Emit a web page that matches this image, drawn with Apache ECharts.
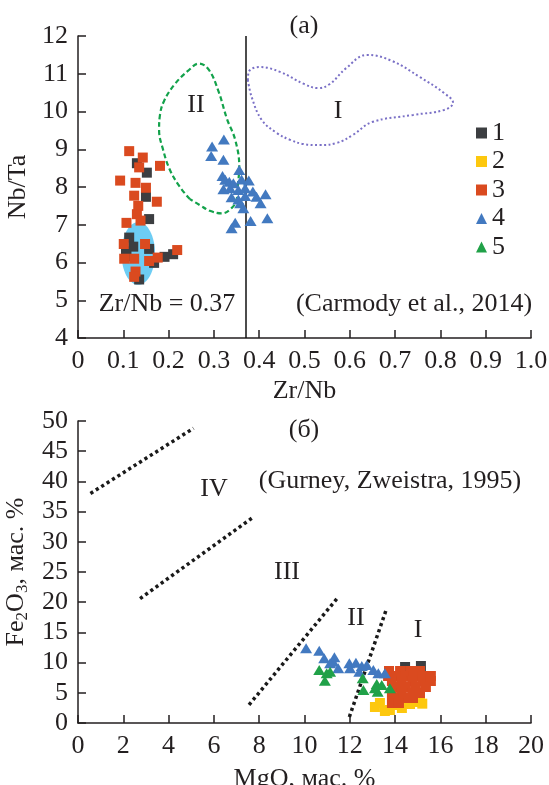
<!DOCTYPE html>
<html>
<head>
<meta charset="utf-8">
<script src="https://cdn.jsdelivr.net/npm/echarts@6/dist/echarts.min.js"></script>
<style>
html,body{margin:0;padding:0;background:#fff;}
#chart{width:549px;height:785px;}
</style>
</head>
<body>
<div id="chart"></div>
<script>
// ---------- DATA ----------
// Panel (а): Zr/Nb vs Nb/Ta
const topXTicks = [0, 0.1, 0.2, 0.3, 0.4, 0.5, 0.6, 0.7, 0.8, 0.9, 1.0];
const topYTicks = [4, 5, 6, 7, 8, 9, 10, 11, 12];
const zrNbLimit = 0.374;
const topS1 = [[0.130,8.63],[0.152,8.38],[0.150,7.74],[0.157,7.15],[0.113,6.66],[0.122,6.42],[0.157,6.36],
  [0.107,6.17],[0.106,6.29],[0.191,6.15],[0.210,6.22],[0.168,5.99],[0.135,5.55]];
const topS3 = [[0.113,8.95],[0.143,8.78],[0.135,8.52],[0.181,8.56],[0.093,8.17],[0.127,8.11],[0.150,7.98],
  [0.124,7.77],[0.174,7.61],[0.133,7.50],[0.130,7.28],[0.107,7.05],[0.138,7.11],[0.101,6.49],[0.148,6.49],
  [0.219,6.33],[0.102,6.10],[0.124,6.10],[0.157,6.04],[0.176,6.13],[0.127,5.76],[0.124,5.62]];
const topS4 = [[0.322,9.26],[0.296,9.07],[0.294,8.82],[0.321,8.72],[0.356,8.45],[0.319,8.29],[0.325,8.19],
  [0.334,8.14],[0.361,8.20],[0.377,8.17],[0.343,8.10],[0.321,7.94],[0.336,7.97],[0.354,7.92],[0.369,7.97],
  [0.386,7.88],[0.394,7.74],[0.414,7.81],[0.339,7.73],[0.354,7.67],[0.369,7.76],[0.358,7.57],[0.403,7.57],
  [0.365,7.44],[0.418,7.17],[0.381,7.10],[0.347,7.05],[0.339,6.91]];
// light-blue field: [centre x, centre y, half width, half height]
const topEllipse = [[0.133, 6.24, 0.037, 0.83]];
// field II (dashed green) outline
const fieldII = [[0.247,7.68],[0.225,8.00],[0.203,8.45],[0.188,8.98],[0.179,9.51],[0.181,9.91],[0.190,10.28],
  [0.214,10.73],[0.245,11.10],[0.267,11.27],[0.289,11.10],[0.310,10.54],[0.329,9.80],[0.347,9.25],[0.356,8.54],
  [0.353,8.05],[0.350,7.66],[0.339,7.44],[0.317,7.30],[0.291,7.37],[0.269,7.52],[0.247,7.68]];
// field I (dotted purple) outline
const fieldI = [[0.375,10.83],[0.377,11.05],[0.400,11.18],[0.446,11.05],[0.499,10.73],[0.530,10.62],[0.556,10.73],
  [0.592,11.15],[0.638,11.50],[0.693,11.34],[0.755,10.91],[0.808,10.49],[0.828,10.23],[0.808,10.04],[0.740,9.91],
  [0.649,9.72],[0.607,9.38],[0.572,9.17],[0.534,9.11],[0.497,9.14],[0.468,9.25],[0.439,9.43],[0.406,9.77],
  [0.384,10.36],[0.375,10.83]];

// Panel (б): MgO vs Fe2O3
const botXTicks = [0, 2, 4, 6, 8, 10, 12, 14, 16, 18, 20];
const botYTicks = [0, 5, 10, 15, 20, 25, 30, 35, 40, 45, 50];
const botS1 = [[15.14,9.44],[14.44,9.27]];
const botS2 = [[13.11,2.65],[13.33,3.31],[13.77,2.15],[14.04,2.98],[14.30,2.48],[14.66,3.15],[15.10,3.48],
  [14.40,3.80],[13.55,1.99],[15.20,3.20]];
const botS3 = [[13.73,8.61],[14.22,8.61],[14.66,8.61],[15.10,8.61],
  [13.69,7.78],[14.04,7.78],[14.44,7.78],[14.83,7.78],[15.23,7.78],[15.58,7.78],
  [13.86,6.95],[14.30,6.95],[14.75,6.95],[15.19,6.95],[15.58,6.95],
  [14.04,5.96],[14.48,5.96],[14.92,5.96],[15.36,5.96],
  [13.86,4.97],[14.30,4.97],[14.75,4.97],[15.10,4.97],
  [13.91,4.14],[14.35,4.14],[14.79,4.14],
  [13.86,3.31],[14.17,3.31]];
const botS4 = [[10.07,12.37],[10.65,11.97],[10.87,10.71],[11.32,10.88],[11.27,10.15],[11.49,9.06],[11.98,9.88],
  [12.27,9.98],[12.53,9.44],[12.75,9.60],[12.42,8.49],[13.04,8.77],[13.26,8.23],[13.55,8.23],[12.01,9.06],[11.13,9.88]];
const botS5 = [[10.65,8.77],[10.98,8.23],[11.13,8.49],[10.90,7.00],[12.57,7.40],[12.60,5.46],[13.19,6.46],
  [13.41,6.29],[13.23,5.18],[13.77,5.74],[13.11,5.74]];
const lineIV = [[0.55,38.0],[5.1,48.8]];
const lineIII = [[2.74,20.6],[7.67,33.9]];
const lineII = [[7.55,3.0],[11.5,20.9]];
const lineI = [[11.98,1.0],[13.63,19.0]];

const seriesNames = ['1','2','3','4','5'];
const seriesColors = ['#3c3e41','#fdc80e','#da4a1f','#4279c0','#20a148'];
const seriesSymbols = ['rect','rect','rect','triangle','triangle'];

// ---------- CHART ----------
const FONT = 'Liberation Serif';
const FS = 26;
const TXT = '#231f20';
const chart = echarts.init(document.getElementById('chart'), null, {renderer:'canvas'});

function axisCommon(min, max, interval, fmt) {
  return {
    type:'value', min:min, max:max, interval:interval,
    axisLine:{show:true, onZero:false, lineStyle:{color:TXT, width:1.5}},
    axisTick:{show:true, inside:true, length:8, lineStyle:{color:TXT, width:1.5}},
    splitLine:{show:false},
    axisLabel:{color:TXT, fontFamily:FONT, fontSize:FS, formatter:fmt, margin:10},
    nameTextStyle:{color:TXT, fontFamily:FONT, fontSize:FS},
    nameLocation:'middle'
  };
}

function scatter(name, idx, data, xi, size) {
  return {
    type:'scatter', name:name, xAxisIndex:xi, yAxisIndex:xi, data:data,
    symbol:seriesSymbols[idx], symbolSize: seriesSymbols[idx]==='triangle' ? [12,10] : size,
    itemStyle:{color:seriesColors[idx], opacity:1}, z:3+idx, silent:true
  };
}

function dotLine(data) {
  return {
    type:'line', xAxisIndex:1, yAxisIndex:1, data:data, symbol:'none', silent:true,
    lineStyle:{color:'#1a1a1a', width:3.5, type:[3.2,3.2], cap:'butt'}, z:2
  };
}

function txt(s, x, y) {
  return {type:'text', style:{text:s, font:FS + 'px "Liberation Serif"', fill:TXT, x:x, y:y,
    textAlign:'center', textVerticalAlign:'middle'}};
}

const option = {
  animation:false,
  backgroundColor:'#fff',
  grid:[
    {left:78, top:36, width:453, height:302, containLabel:false, outerBoundsMode:'none'},
    {left:78, top:421, width:453, height:302, containLabel:false, outerBoundsMode:'none'}
  ],
  xAxis:[
    Object.assign(axisCommon(topXTicks[0], topXTicks[topXTicks.length-1], 0.1,
      v => v === 0 ? '0' : v.toFixed(1)), {gridIndex:0, name:'Zr/Nb', nameGap:40}),
    Object.assign(axisCommon(botXTicks[0], botXTicks[botXTicks.length-1], 2,
      v => String(Math.round(v))), {gridIndex:1, name:'MgO, мас. %', nameGap:43})
  ],
  yAxis:[
    Object.assign(axisCommon(topYTicks[0], topYTicks[topYTicks.length-1], 1,
      v => String(Math.round(v))), {gridIndex:0, name:'Nb/Ta', nameGap:41}),
    Object.assign(axisCommon(botYTicks[0], botYTicks[botYTicks.length-1], 5,
      v => String(Math.round(v))), {gridIndex:1, name:'Fe{s|2}O{s|3}, мас. %', nameGap:41,
      nameTextStyle:{color:TXT, fontFamily:FONT, fontSize:FS,
        rich:{s:{fontFamily:FONT, fontSize:17, color:TXT, verticalAlign:'bottom', padding:[13,0,0,0]}}}})
  ],
  legend:{
    orient:'vertical', left:476, top:120, padding:0, itemGap:2.5,
    itemWidth:11, itemHeight:11, selectedMode:false,
    textStyle:{color:TXT, fontFamily:FONT, fontSize:FS, lineHeight:26},
    data: seriesNames.map((n,i)=>({name:n, icon:seriesSymbols[i], itemStyle:{color:seriesColors[i]}}))
  },
  graphic:[
    txt('(а)', 304, 26),
    txt('II', 196, 105),
    txt('I', 338, 111),
    txt('Zr/Nb = 0.37', 167, 304),
    txt('(Carmody et al., 2014)', 414, 304),
    txt('(б)', 304, 430),
    txt('(Gurney, Zweistra, 1995)', 390, 481),
    txt('IV', 214, 489),
    txt('III', 287, 572),
    txt('II', 356, 618),
    txt('I', 418, 630)
  ],
  series:[
    {
      type:'custom', xAxisIndex:0, yAxisIndex:0, data:topEllipse, silent:true, z:1,
      renderItem:function(params, api){
        const c = api.coord([api.value(0), api.value(1)]);
        const s = api.size([api.value(2), api.value(3)]);
        return {type:'ellipse', shape:{cx:c[0], cy:c[1], rx:s[0], ry:s[1]}, style:{fill:'#6dcdf4'}};
      }
    },
    {
      type:'line', xAxisIndex:0, yAxisIndex:0, data:fieldII, symbol:'none', smooth:0.4, silent:true, z:2,
      lineStyle:{color:'#13a24b', width:2.2, type:[5,3]}
    },
    {
      type:'line', xAxisIndex:0, yAxisIndex:0, data:fieldI, symbol:'none', smooth:0.4, silent:true, z:2,
      lineStyle:{color:'#7a70c6', width:2, type:[2,2.5]}
    },
    {
      type:'line', xAxisIndex:0, yAxisIndex:0, data:[], symbol:'none', silent:true, z:2,
      markLine:{silent:true, symbol:'none', label:{show:false},
        lineStyle:{color:'#111', width:1.5, type:'solid'},
        data:[{xAxis:zrNbLimit}]}
    },
    scatter('1',0,topS1,0,10),
    scatter('3',2,topS3,0,10),
    scatter('4',3,topS4,0,10),
    dotLine(lineIV), dotLine(lineIII), dotLine(lineII), dotLine(lineI),
    scatter('1',0,botS1,1,10),
    scatter('2',1,botS2,1,10),
    scatter('3',2,botS3,1,10),
    scatter('4',3,botS4,1,10),
    scatter('5',4,botS5,1,10)
  ]
};
chart.setOption(option);
</script>
</body>
</html>
